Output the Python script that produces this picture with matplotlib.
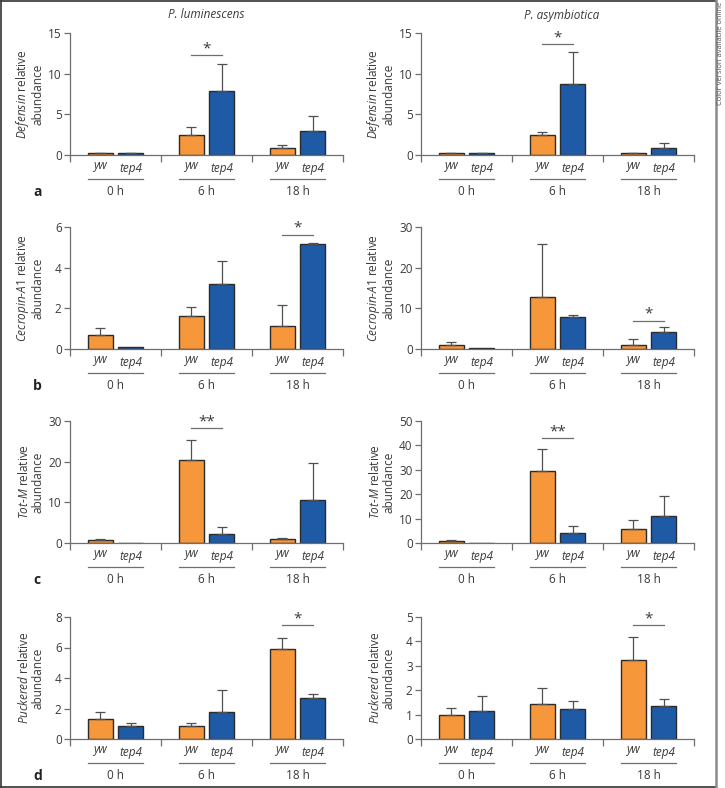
import numpy as np
import matplotlib.pyplot as plt
from matplotlib.lines import Line2D
from matplotlib.transforms import blended_transform_factory

plt.rcParams['font.family'] = ['Open Sans', 'DejaVu Sans']
plt.rcParams['mathtext.fontset'] = 'custom'
plt.rcParams['mathtext.it'] = 'Open Sans:italic'
plt.rcParams['mathtext.rm'] = 'Open Sans'

W, H = 725, 788

times = ['0 h', '6 h', '18 h']
genotypes = ['yw', 'tep4']
species = ['P. luminescens', 'P. asymbiotica']
panel_letters = ['a', 'b', 'c', 'd']

# y labels (italic gene name + regular text)
ylabels = [r'$\mathit{Defensin}$ relative' + '\nabundance',
           r'$\mathit{Cecropin}$-$\mathit{A1}$ relative' + '\nabundance',
           r'$\mathit{Tot}$-$\mathit{M}$ relative' + '\nabundance',
           r'$\mathit{Puckered}$ relative' + '\nabundance']

# means and upper errors, [row][column]
yw_mean = [[[0.2, 2.5, 0.8], [0.2, 2.45, 0.2]],
           [[0.7, 1.61, 1.13], [1.1, 12.7, 1.06]],
           [[0.75, 20.3, 0.9], [0.8, 29.7, 5.6]],
           [[1.28, 0.87, 5.89], [1.0, 1.43, 3.23]]]
yw_err = [[[0.1, 0.9, 0.4], [0.1, 0.35, 0.1]],
          [[0.34, 0.44, 1.02], [0.5, 13.2, 1.35]],
          [[0.15, 5.0, 0.25], [0.3, 8.7, 3.7]],
          [[0.46, 0.17, 0.74], [0.26, 0.65, 0.93]]]
tep4_mean = [[[0.2, 7.9, 2.95], [0.2, 8.75, 0.9]],
             [[0.1, 3.18, 5.17], [0.33, 7.8, 4.1]],
             [[0.0, 2.3, 10.5], [0.0, 3.95, 11.2]],
             [[0.85, 1.76, 2.67], [1.13, 1.21, 1.36]]]
tep4_err = [[[0.1, 3.3, 1.85], [0.1, 3.95, 0.6]],
            [[0.0, 1.14, 0.06], [0.0, 0.5, 1.3]],
            [[0.0, 1.6, 9.1], [0.0, 3.0, 8.0]],
            [[0.19, 1.46, 0.26], [0.64, 0.33, 0.26]]]

# significance: (group, bracket height, label)
signif = [[(1, 12.3, '*'), (1, 13.6, '*')],
          [(2, 5.63, '*'), (2, 7.0, '*')],
          [(1, 28.3, '**'), (1, 43.2, '**')],
          [(2, 7.48, '*'), (2, 4.67, '*')]]

ymax = [[15, 15], [6, 30], [30, 50], [8, 5]]
ystep = [[5, 5], [2, 10], [10, 10], [2, 1]]

orange = '#F5973A'
blue = '#1F5AA6'
edge = '#2b2b2b'
grey = '#6e6e6e'
txt = '#3a3a3a'

off = 0.17
bw = 0.275

fig = plt.figure(figsize=(W / 100, H / 100), dpi=100)

ax_left = [70, 421]
row_bottom = [155, 349, 543, 739]
ax_w, ax_h = 273, 122

x = np.arange(len(times))

for r in range(4):
    for c in range(2):
        ax = fig.add_axes([ax_left[c] / W, 1 - row_bottom[r] / H, ax_w / W, ax_h / H])
        ym = np.array(yw_mean[r][c])
        ye = np.array(yw_err[r][c])
        tm = np.array(tep4_mean[r][c])
        te = np.array(tep4_err[r][c])

        ax.bar(x - off, ym, bw, color=orange, edgecolor=edge, linewidth=1, zorder=2)
        ax.bar(x + off, tm, bw, color=blue, edgecolor=edge, linewidth=1, zorder=2)
        for xs, m, e in [(x - off, ym, ye), (x + off, tm, te)]:
            k = e > 0
            ax.errorbar(xs[k], m[k], yerr=[np.zeros(k.sum()), e[k]], fmt='none',
                        ecolor='#505050', elinewidth=0.9, capsize=3.5, capthick=0.9, zorder=3)

        g, h, lab = signif[r][c]
        ax.plot([g - off, g + off], [h, h], color=grey, lw=0.9, clip_on=False)
        ax.annotate(lab, xy=(g, h), xytext=(0, -1), textcoords='offset points',
                    ha='center', va='bottom', fontsize=11, color=txt)

        ax.set_xlim(-0.5, 2.5)
        ax.set_ylim(0, ymax[r][c])
        ax.set_yticks(np.arange(0, ymax[r][c] + 0.01, ystep[r][c]))
        ax.set_xticks([-0.5, 0.5, 1.5, 2.5])
        ax.set_xticklabels([])
        ax.tick_params(axis='x', length=5, width=0.9, color=grey, direction='out')
        ax.tick_params(axis='y', length=4, width=0.9, color=grey, direction='out',
                       labelsize=8.5, labelcolor=txt, pad=2)
        for s in ['top', 'right']:
            ax.spines[s].set_visible(False)
        for s in ['left', 'bottom']:
            ax.spines[s].set_color(grey)
            ax.spines[s].set_linewidth(0.9)

        ax.set_ylabel(ylabels[r], fontsize=8.5, color=txt, linespacing=1.05)
        ax.yaxis.set_label_coords(-0.092, 0.5)

        tr = blended_transform_factory(ax.transData, ax.transAxes)
        for i, t in enumerate(times):
            ax.text(i - off, -0.112, genotypes[0], transform=tr, ha='center', va='baseline',
                    fontsize=8.5, style='italic', color=txt)
            ax.text(i + off, -0.14, genotypes[1], transform=tr, ha='center', va='baseline',
                    fontsize=8.5, style='italic', color=txt)
            ax.plot([i - off - bw / 2, i + off + bw / 2], [-0.197, -0.197], transform=tr,
                    color=grey, lw=0.9, clip_on=False)
            ax.text(i, -0.303, t, transform=tr, ha='center', va='center',
                    fontsize=8.5, color=txt)

        if c == 0:
            ax.text(-0.135, -0.303, panel_letters[r], transform=ax.transAxes,
                    ha='left', va='center', fontsize=10, fontweight='bold', color='#222222')
        if r == 0:
            cx = [206.5, 562][c]
            fig.text(cx / W, 1 - 15 / H, species[c], ha='center', va='center',
                     fontsize=8.5, style='italic', color=txt)

# frame around the figure
fig.add_artist(Line2D([0.5 / W, 716 / W], [1 - 0.7 / H, 1 - 0.7 / H], color='#333333', lw=1.2))
fig.add_artist(Line2D([0.7 / W, 0.7 / W], [1 - 0.5 / H, 1 - 787 / H], color='#333333', lw=1.2))
fig.add_artist(Line2D([0.5 / W, 716 / W], [1 - 786.5 / H, 1 - 786.5 / H], color='#333333', lw=1.2))
fig.add_artist(Line2D([716 / W, 716 / W], [1, 0], color='#8a8a8a', lw=1.8))
fig.text(721 / W, 1 - 1.5 / H, 'Color version available online', rotation=90,
         ha='center', va='top', fontsize=5.5, color='#555555')

fig.savefig('out.png', dpi=100)
